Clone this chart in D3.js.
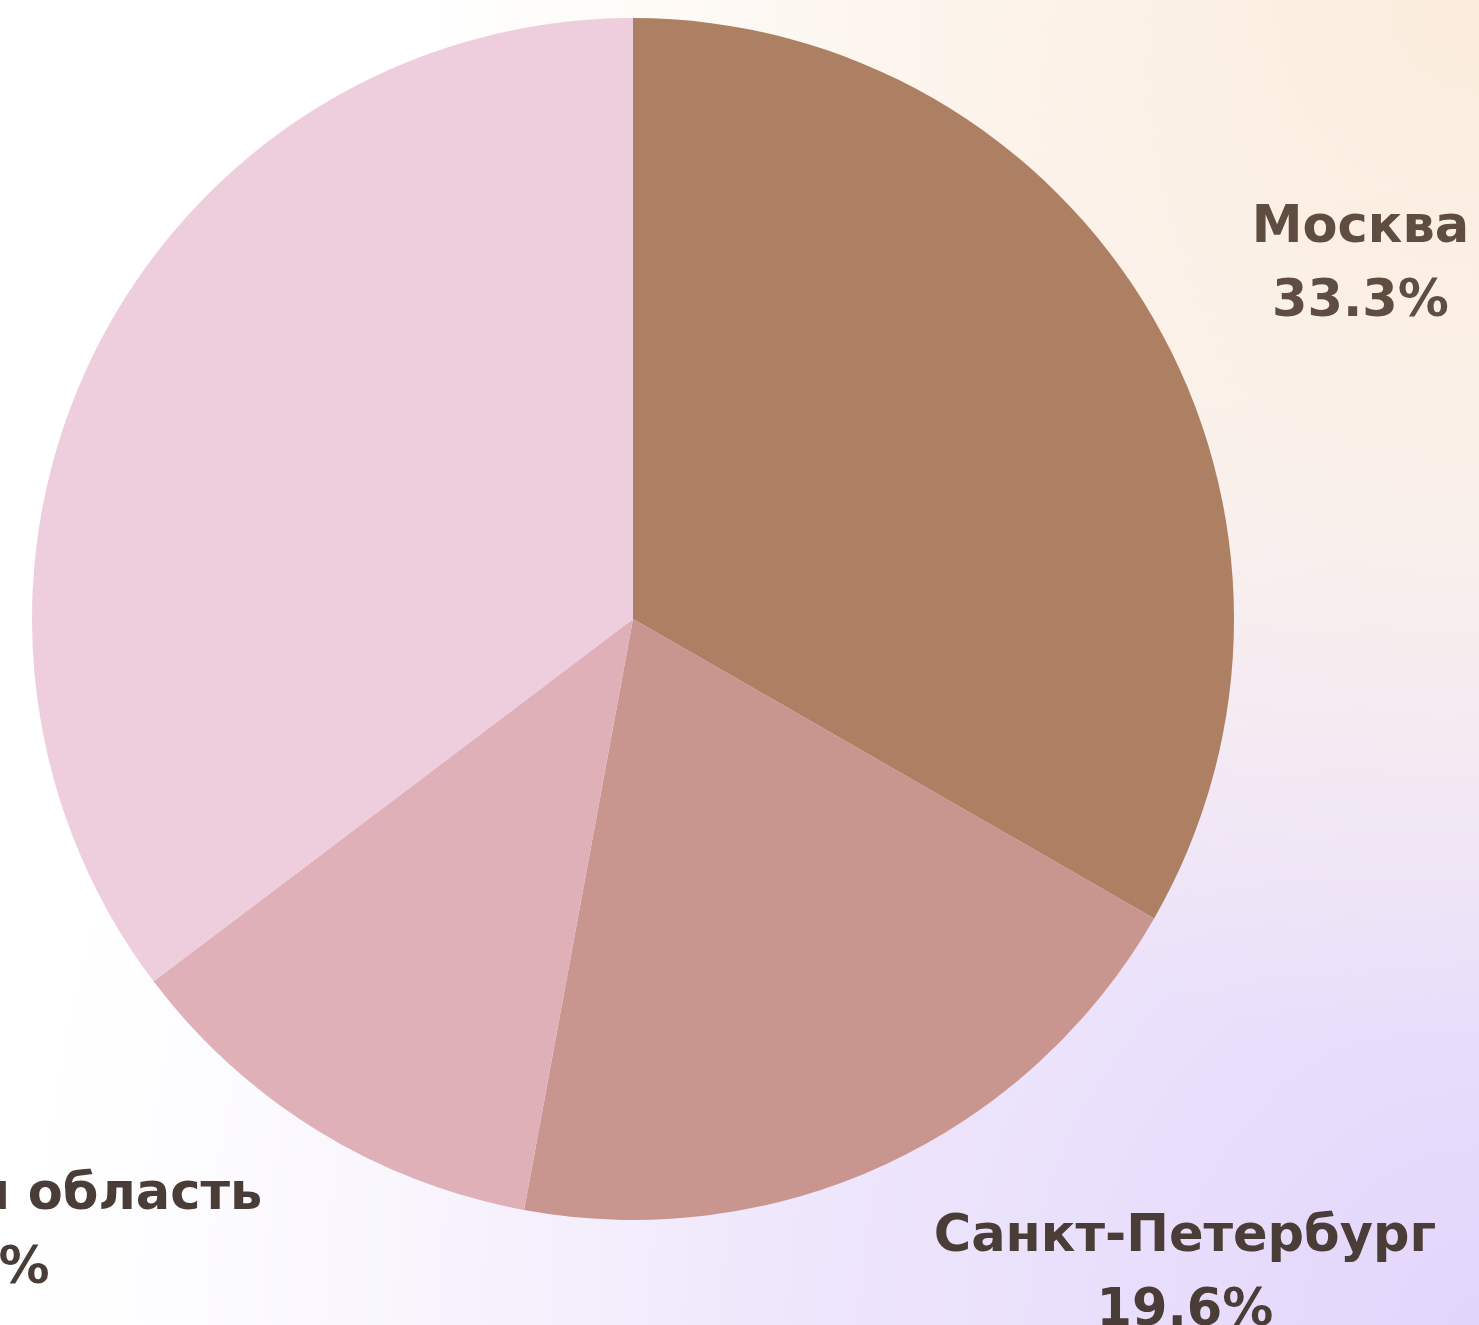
<!DOCTYPE html>
<html>
<head>
<meta charset="utf-8">
<script src="https://cdn.jsdelivr.net/npm/d3@7"></script>
<style>
  html, body { margin: 0; padding: 0; overflow: hidden; }
  svg { display: block; }
</style>
</head>
<body>
<svg id="chart"></svg>
<script>
// data
const regions = ["Москва", "Санкт-Петербург", "Московская область", "Другие"];
const shares = [33.3, 19.6, 11.8, 35.3];
const sliceColors = ["#ae8063", "#c9958f", "#dfb0b7", "#eecedd"];

const width = 1479;
const height = 1325;
const cx = 633, cy = 619;
const radius = 601;

// label placement: angle nudge (deg) and distance from centre
const labelNudge = [5, -14.7, 15.3, -6];
const labelDist = [803, 867, 919, 900];
const labelColors = ["#5f4d42", "#4a3d38", "#4a3d38", "#4a3d38"];

const svg = d3.select("#chart")
    .attr("width", width)
    .attr("height", height);

// background: white fading into peach (top right) and lavender (bottom right)
const defs = svg.append("defs");
const peach = defs.append("radialGradient")
    .attr("id", "peach")
    .attr("gradientUnits", "userSpaceOnUse")
    .attr("cx", width).attr("cy", 0).attr("r", 1050);
peach.append("stop").attr("offset", "0%").attr("stop-color", "#fbecdc").attr("stop-opacity", 1);
peach.append("stop").attr("offset", "45%").attr("stop-color", "#fcf1e6").attr("stop-opacity", 0.85);
peach.append("stop").attr("offset", "100%").attr("stop-color", "#fcf1e6").attr("stop-opacity", 0);

const lav = defs.append("radialGradient")
    .attr("id", "lav")
    .attr("gradientUnits", "userSpaceOnUse")
    .attr("cx", width).attr("cy", height).attr("r", 1450);
lav.append("stop").attr("offset", "0%").attr("stop-color", "#e2d5fb").attr("stop-opacity", 1);
lav.append("stop").attr("offset", "50%").attr("stop-color", "#ece3fb").attr("stop-opacity", 0.85);
lav.append("stop").attr("offset", "100%").attr("stop-color", "#f3eefc").attr("stop-opacity", 0);

svg.append("rect").attr("width", width).attr("height", height).attr("fill", "#ffffff");
svg.append("rect").attr("width", width).attr("height", height).attr("fill", "url(#lav)");
svg.append("rect").attr("width", width).attr("height", height).attr("fill", "url(#peach)");

const g = svg.append("g")
    .attr("transform", `translate(${cx}, ${cy})`);

const pie = d3.pie().sort(null).value(d => d);
const arcs = pie(shares);

const arc = d3.arc().innerRadius(0).outerRadius(radius);

g.selectAll("path")
    .data(arcs)
    .enter()
    .append("path")
    .attr("d", arc)
    .attr("fill", (d, i) => sliceColors[i]);

// labels, two lines each
const labelPos = (d, i) => {
    const a = (d.startAngle + d.endAngle) / 2 + labelNudge[i] * Math.PI / 180;
    return [labelDist[i] * Math.sin(a), -labelDist[i] * Math.cos(a)];
};

const labels = g.selectAll("g.label")
    .data(arcs)
    .enter()
    .append("g")
    .attr("class", "label")
    .attr("transform", (d, i) => `translate(${labelPos(d, i)})`);

labels.append("text")
    .attr("text-anchor", "middle")
    .attr("y", -37)
    .style("font-family", "'DejaVu Sans', sans-serif")
    .style("font-weight", "bold")
    .style("font-size", "51px")
    .style("fill", (d, i) => labelColors[i])
    .text((d, i) => regions[i]);

labels.append("text")
    .attr("text-anchor", "middle")
    .attr("y", 37)
    .style("font-family", "'DejaVu Sans', sans-serif")
    .style("font-weight", "bold")
    .style("font-size", "51px")
    .style("fill", (d, i) => labelColors[i])
    .text((d, i) => shares[i].toFixed(1) + "%");
</script>
</body>
</html>
